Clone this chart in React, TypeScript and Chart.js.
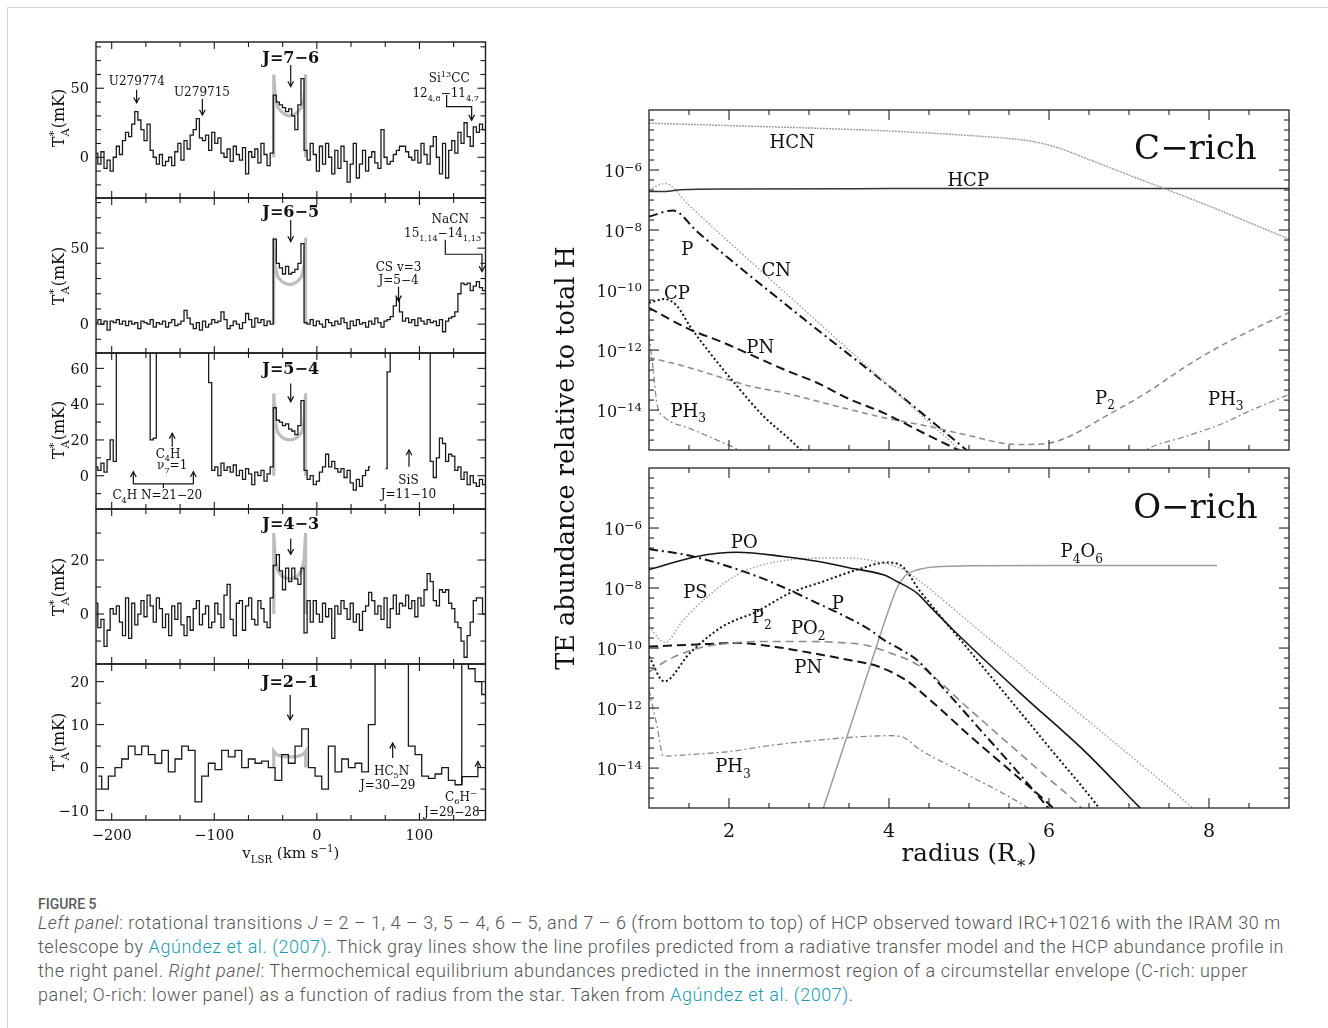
import React, { useEffect, useRef } from 'react';
import { Chart, registerables } from 'chart.js';
Chart.register(...registerables);

const SERIF = '"DejaVu Serif", "Liberation Serif", serif';
const MINUS = '\u2212';

// ---------------- Left panel: HCP spectra ----------------
const VEL_START = -215;
const VEL_STEP = 3;
const VEL21_START = -213;
const VEL21_STEP = 6.5;
const VEL_MIN = -215.3;
const VEL_MAX = 164.4;
const VEL_TICK_LABELS = [-200, -100, 0, 100];

const T76 = [3, -5, 4, -8, -2, -10, 0, 8, 2, 12,
  18, 15, 24, 33, 27, 20, 12, 24, 5, 0,
  -5, 2, -6, -3, 0, -6, 4, 10, -2, 12,
  6, 16, 20, 28, 14, 12, 16, 5, 18, 10,
  14, 3, 0, 6, -3, 8, 2, -2, 7, -12,
  4, 0, 6, -4, 10, 2, -6, 3,
  45, 40, 38, 36, 33, 35, 30, 20, 38, 57,
  5, -2, 10, 2, -10, 8, -5, 10, 0, -12,
  5, -8, 8, -3, -18, -5, 10, -15, -5, 5,
  -10, 0, 4, -4, -8, 20, 0, -5, -3, 2,
  5, 8, 8, 4, 0, -2, 5, -4, 10, 2,
  -5, 8, 15, 0, -12, 10, -15, 5, 12, 3,
  18, 10, 25, 15, 8, 22, 18, 24, 20, 18];

const T65 = [1, 3, 0, 2, -4, 2, 1, 3, 0, 2,
  -1, 2, 0, 1, -3, 2, 1, 0, 3, -2,
  1, 0, 2, -2, 1, 3, -1, 0, 2, 9,
  4, 0, -3, 1, -4, 2, -2, 0, 3, 1,
  2, 8, 3, -3, -1, 2, 0, -3, 1, 7,
  3, -2, 4, 1, 3, -1, 2, 0,
  56, 40, 37, 33, 38, 33, 34, 36, 40, 53,
  1, 0, 3, -1, 2, 0, -2, 3, 1, -1,
  2, 0, 4, 1, -3, 2, -1, 3, 0, 1,
  -2, 2, 0, 4, 1, -2, 2, 3, 5, 12,
  17, 8, 2, 4, 1, 3, -1, 4, 2, 0,
  3, 1, 2, -1, 3, -5, 2, 4, 5, 8,
  20, 27, 26, 27, 22, 25, 28, 24, 22, 23];

const T54 = [5, 3, 7, 2, 9, 20, 8,
  150, 150, 150, 150, 150, 150, 150, 150, 150, 150, 150,
  20, 21,
  150, 150, 150, 150, 150, 150, 150, 150, 150, 150, 150, 150, 150, 150, 150, 150, 150,
  52,
  3, 5, 0, 7, 3, 5, 2, 6, 0, 3, -2, 4, 1, -5, 2, 0, 3, -3, 1, 5,
  38, 31, 30, 28, 29, 26, 25, 23, 28, 42,
  3, -2, 0, -5, -3, 2, 5, 12, 5, 8, 4, 2, 4, -1, 3, -4, -8, -2, -6, 0, 3, 5,
  null, null, null, null,
  4, 58,
  150, 150, 150, 150, 150, 150, 150, 150, 150, 150, 150, 150, 150,
  8, -1, 10, 21, 18, 8, 12, 11, 3, 5, -2, 2, -5, 0, -4, -6, -2, -5, -1];

const T43 = [4, -5, -2, -12, -6, 2, 0, 3, -3, -8,
  6, -9, 4, -4, 0, 5, -1, 7, 3, -3,
  6, 2, -5, 0, -8, 3, -2, 4, -4, -8,
  -1, -6, 2, 5, -4, 0, 3, -5, -3, 4,
  0, -5, 7, 11, -2, -8, 4, 5, -6, 3,
  6, -2, -4, 5, 2, -3, -5, 6,
  18, 22, 16, 9, 17, 12, 17, 13, 11, 17,
  -7, 5, -3, 5, 0, -3, 4, -1, 2, -9,
  3, 0, 5, 2, -2, 4, -3, 0, -6, 1,
  3, 8, 5, 0, 3, -2, 6, -5, 2, 7,
  0, 4, 3, 7, 2, 5, -1, 6, 3, 9,
  15, 12, 5, 3, 9, 8, 9, 4, 2, -3,
  -5, -10, -16, -8, -3, 5, 6, 6, 0, 0];

const T21 = [-2, -5, -2, 0, 2, 5, 3, 5, 3, 1,
  4, -1, 2, 5, 4, -8, -2, 1, -0.5, 4,
  2.5, 4, 0, 2, 1, 1.5, 0, -3, 3, 1,
  5, 9, 0, -2, -5, 5, -1, 2, 0, 1,
  -1, 10, 150, 150, 150, 150, 150, 5, 3, -2,
  -2.5, -1.5, 0, -3, -4, 150, 23, 20, 17];

// radiative-transfer model profiles (thick gray)
const MODEL_V = [-42, -42, -40.5, -38, -34, -30, -26.5, -23, -19, -15, -12.5, -11, -11];
const MODEL76 = [0, 60, 43, 36, 32.5, 30.5, 30, 30.5, 32.5, 36, 43, 60, 0];
const MODEL65 = [0, 57, 38, 31, 28, 26.5, 26, 26.5, 28, 31, 38, 57, 0];
const MODEL54 = [0, 46, 30, 24, 21.5, 20.3, 20, 20.3, 21.5, 24, 30, 46, 0];
const MODEL43 = [0, 30, 20, 16, 14, 13.3, 13, 13.3, 14, 16, 20, 30, 0];
const MODEL21 = [0, 3.8, 3.3, 2.9, 2.6, 2.5, 2.5, 2.5, 2.6, 2.9, 3.3, 3.8, 0];

// ---------------- Right panel: TE abundances (log10 of abundance) ----------------
const RAD_MIN = 1;
const RAD_MAX = 9;
const LOG_MIN = -15.33;
const LOG_MAX = -4;
const RAD_TICK_LABELS = [2, 4, 6, 8];
const ABUND_TICK_EXP = [-6, -8, -10, -12, -14];

// C-rich
const C_HCN_R = [1, 2, 3, 4, 5, 5.5, 5.8, 6.1, 6.5, 7, 7.5, 8, 8.5, 9];
const C_HCN = [-4.44, -4.52, -4.6, -4.7, -4.85, -4.95, -5.05, -5.25, -5.65, -6.17, -6.68, -7.2, -7.75, -8.3];
const C_HCP_R = [1, 1.15, 1.4, 2, 4, 6, 9];
const C_HCP = [-6.72, -6.72, -6.66, -6.63, -6.62, -6.62, -6.62];
const C_CN_R = [1, 1.2, 1.5, 2, 3, 4, 4.5, 5];
const C_CN = [-6.65, -6.45, -7.18, -8.4, -10.8, -13.2, -14.4, -15.6];
const C_P_R = [1, 1.3, 1.6, 2, 3, 4, 4.5, 5];
const C_P = [-7.55, -7.35, -8.05, -8.95, -11.1, -13.2, -14.3, -15.4];
const C_CP_R = [1, 1.2, 1.35, 1.51, 1.76, 2.1, 2.43, 2.76, 3.0];
const C_CP = [-10.42, -10.3, -10.53, -11.2, -12.09, -13.2, -14.2, -14.98, -15.6];
const C_PN_R = [1, 1.5, 1.93, 2.26, 2.68, 3.1, 3.51, 3.93, 4.51, 5.0];
const C_PN = [-10.59, -11.3, -11.75, -12.14, -12.64, -13.09, -13.64, -14.09, -14.87, -15.5];
const C_P2_R = [1, 1.43, 1.85, 2.26, 2.68, 3.1, 3.51, 3.93, 4.51, 5.0, 5.6, 6.0, 6.26, 6.71, 7.22, 7.72, 8.14, 8.55, 9];
const C_P2 = [-12.25, -12.53, -12.87, -13.2, -13.42, -13.7, -13.98, -14.25, -14.55, -14.85, -15.15, -15.1, -14.87, -14.2, -13.42, -12.53, -11.87, -11.31, -10.75];
const C_PH3_R = [1, 1.05, 1.1, 1.2, 1.5, 1.85, 2.1, 2.4, 4.5, 7.0, 7.2, 7.72, 8.14, 8.55, 9];
const C_PH3 = [-11.5, -12.6, -13.8, -14.25, -14.6, -15.0, -15.3, -15.8, null, -15.8, -15.35, -14.87, -14.48, -13.98, -13.48];

// O-rich
const O_PO_R = [1, 1.6, 2.1, 2.68, 3.1, 3.51, 3.93, 4.1, 4.35, 4.51, 4.8, 5.64, 6.47, 7.14, 7.3];
const O_PO = [-7.39, -6.95, -6.81, -6.95, -7.11, -7.33, -7.56, -7.78, -8.17, -8.61, -9.39, -11.5, -13.5, -15.33, -15.75];
const O_P_R = [1, 1.54, 2.35, 3.1, 3.76, 3.93, 4.15, 4.35, 4.7, 5.2, 5.6, 5.95, 6.1];
const O_P = [-6.7, -6.94, -7.61, -8.5, -9.39, -9.72, -10.05, -10.4, -11.4, -12.9, -14.1, -15.2, -15.7];
const O_PS_R = [1, 1.2, 1.43, 1.76, 2.1, 2.43, 2.76, 3.1, 3.51, 3.93, 4.18, 4.39, 5, 6, 7, 7.74, 7.9];
const O_PS = [-9.3, -9.81, -9.06, -8.22, -7.56, -7.22, -7.06, -7.0, -7.0, -7.17, -7.39, -7.78, -9.13, -11.35, -13.55, -15.2, -15.6];
const O_P2_R = [1, 1.19, 1.51, 1.92, 2.35, 2.76, 3.18, 3.6, 3.97, 4.15, 4.39, 5, 5.5, 6, 6.58, 6.7];
const O_P2 = [-10.28, -11.11, -10.17, -9.28, -8.78, -8.17, -7.78, -7.39, -7.15, -7.25, -8.11, -10.07, -11.68, -13.3, -15.17, -15.6];
const O_PO2_R = [1, 1.2, 1.4, 1.7, 2.1, 2.5, 3, 3.4, 3.7, 4.0, 4.39, 5, 5.5, 6, 6.35, 6.5];
const O_PO2 = [-10.8, -10.45, -10.2, -9.95, -9.82, -9.78, -9.78, -9.82, -9.9, -10.15, -10.61, -12.03, -13.2, -14.36, -15.17, -15.6];
const O_PN_R = [1, 1.6, 2.1, 2.5, 3, 3.5, 3.85, 4.2, 4.5, 5, 5.5, 6, 6.15];
const O_PN = [-9.95, -9.88, -9.83, -9.93, -10.15, -10.4, -10.6, -11.05, -11.7, -12.9, -14.05, -15.2, -15.6];
const O_PH3_R = [1, 1.1, 1.18, 1.5, 2, 2.5, 3, 3.5, 4, 4.15, 4.39, 5, 5.5, 5.75, 5.9];
const O_PH3 = [-11.4, -12.6, -13.6, -13.55, -13.45, -13.25, -13.1, -12.98, -12.92, -12.95, -13.39, -14.25, -14.95, -15.35, -15.6];
const O_P4O6_R = [3.1, 3.18, 3.5, 3.8, 4.0, 4.1, 4.2, 4.35, 4.6, 5, 6, 8.1];
const O_P4O6 = [-16, -15.33, -12.75, -10.3, -8.7, -8.0, -7.6, -7.4, -7.29, -7.26, -7.25, -7.25];

// ---------------- drawing helpers ----------------
type Seg = { t: string; k: number };
function parseRich(s: string): Seg[] {
  const out: Seg[] = [];
  let buf = '';
  for (let i = 0; i < s.length; i++) {
    const c = s[i];
    if (c === '_' || c === '^') {
      if (buf) { out.push({ t: buf, k: 0 }); buf = ''; }
      let t = '';
      if (s[i + 1] === '{') { const j = s.indexOf('}', i + 2); t = s.slice(i + 2, j); i = j; }
      else { t = s[i + 1]; i++; }
      out.push({ t, k: c === '_' ? 1 : 2 });
    } else buf += c;
  }
  if (buf) out.push({ t: buf, k: 0 });
  return out;
}

function drawRich(ctx: CanvasRenderingContext2D, s: string, x: number, cy: number, size: number,
  align: string = 'center', bold = false, color = '#111', subRatio = 0.68) {
  const segs = parseRich(s);
  const font = (k: number) => `${bold ? 'bold ' : ''}${k ? (size * subRatio).toFixed(1) : size}px ${SERIF}`;
  const w = segs.map(g => { ctx.font = font(g.k); return ctx.measureText(g.t).width; });
  const xs: number[] = segs.map(() => 0);
  let cx = 0;
  for (let i = 0; i < segs.length; i++) {
    xs[i] = cx;
    const n = segs[i + 1];
    if (segs[i].k && n && n.k && n.k !== segs[i].k) {
      xs[i + 1] = cx;
      cx += Math.max(w[i], w[i + 1]);
      i++;
    } else cx += w[i];
  }
  const x0 = align === 'center' ? x - cx / 2 : align === 'right' ? x - cx : x;
  const base = cy + size * 0.36;
  ctx.fillStyle = color;
  ctx.textAlign = 'left';
  ctx.textBaseline = 'alphabetic';
  segs.forEach((g, i) => {
    ctx.font = font(g.k);
    const dy = g.k === 1 ? size * 0.3 : g.k === 2 ? -size * 0.42 : 0;
    ctx.fillText(g.t, x0 + xs[i], base + dy);
  });
}

function seg(ctx: CanvasRenderingContext2D, x1: number, y1: number, x2: number, y2: number) {
  ctx.beginPath(); ctx.moveTo(x1, y1); ctx.lineTo(x2, y2); ctx.stroke();
}

function drawArrow(ctx: CanvasRenderingContext2D, pts: number[][], head: boolean) {
  ctx.beginPath();
  ctx.moveTo(pts[0][0], pts[0][1]);
  for (let i = 1; i < pts.length; i++) ctx.lineTo(pts[i][0], pts[i][1]);
  ctx.stroke();
  if (head) {
    const [x2, y2] = pts[pts.length - 1];
    const [x1, y1] = pts[pts.length - 2];
    const ang = Math.atan2(y2 - y1, x2 - x1);
    const L = 6, W = 0.5;
    ctx.beginPath();
    ctx.moveTo(x2 - L * Math.cos(ang - W), y2 - L * Math.sin(ang - W));
    ctx.lineTo(x2, y2);
    ctx.lineTo(x2 - L * Math.cos(ang + W), y2 - L * Math.sin(ang + W));
    ctx.stroke();
  }
}

const fmtNum = (v: number) => (v < 0 ? MINUS + Math.abs(v) : String(v));

// ---------------- left panel configs ----------------
type Txt = { t: string; x: number; y: number; size?: number; bold?: boolean };
type Arr = { pts: number[][]; head?: boolean };
type LeftPanel = {
  top: number; bottom: number; yMin: number; yMax: number; yStep: number; yLabels: number[];
  values: (number | null)[]; v0: number; dv: number; model: number[]; titleY: number;
  texts: Txt[]; arrows: Arr[];
};

const LEFT_PANELS: LeftPanel[] = [
  {
    top: 42, bottom: 198, yMin: -29.5, yMax: 83.5, yStep: 10, yLabels: [0, 50],
    values: T76, v0: VEL_START, dv: VEL_STEP, model: MODEL76, titleY: 118,
    texts: [
      { t: 'J=7' + MINUS + '6', x: -25.5, y: 72.7, size: 16, bold: true },
      { t: 'U279774', x: -175.5, y: 55.3 },
      { t: 'U279715', x: -112, y: 47.3 },
      { t: 'Si^{13}CC', x: 129, y: 57.5 },
      { t: '12_{4,8}' + MINUS + '11_{4,7}', x: 125.6, y: 46.5 },
    ],
    arrows: [
      { pts: [[-25.5, 66.9], [-25.5, 51.2]] },
      { pts: [[-175.7, 49], [-175.7, 39.5]] },
      { pts: [[-111.6, 42.3], [-111.6, 30.6]] },
      { pts: [[126.5, 45.1], [126.5, 36.7], [150.9, 36.7], [150.9, 26.9]] },
    ],
  },
  {
    top: 198, bottom: 353, yMin: -19, yMax: 83, yStep: 10, yLabels: [0, 50],
    values: T65, v0: VEL_START, dv: VEL_STEP, model: MODEL65, titleY: 276,
    texts: [
      { t: 'J=6' + MINUS + '5', x: -25.5, y: 74.6, size: 16, bold: true },
      { t: 'NaCN', x: 130, y: 69.7 },
      { t: '15_{1,14}' + MINUS + '14_{1,13}', x: 122.6, y: 59.9 },
      { t: 'CS v=3', x: 79.6, y: 37.9 },
      { t: 'J=5' + MINUS + '4', x: 79.6, y: 29.1 },
    ],
    arrows: [
      { pts: [[-25.5, 68.6], [-25.5, 54.4]] },
      { pts: [[125.2, 55.5], [125.2, 46], [161, 46], [161, 34.6]] },
      { pts: [[79.6, 24.7], [79.6, 15.3]] },
    ],
  },
  {
    top: 353, bottom: 509, yMin: -18.6, yMax: 68.6, yStep: 10, yLabels: [0, 20, 40, 60],
    values: T54, v0: VEL_START, dv: VEL_STEP, model: MODEL54, titleY: 430,
    texts: [
      { t: 'J=5' + MINUS + '4', x: -25.5, y: 60, size: 16, bold: true },
      { t: 'C_{4}H', x: -145, y: 12.4 },
      { t: '\u03bd_{7}=1', x: -141, y: 6 },
      { t: 'C_{4}H N=21' + MINUS + '20', x: -155.5, y: -10.8 },
      { t: 'SiS', x: 89.3, y: -2.4 },
      { t: 'J=11' + MINUS + '10', x: 89.3, y: -10.2 },
    ],
    arrows: [
      { pts: [[-25.5, 51.6], [-25.5, 41.4]] },
      { pts: [[-141, 16.2], [-141, 23.7]] },
      { pts: [[-178.9, -4.6], [-120.4, -4.6]], head: false },
      { pts: [[-178.9, -4.6], [-178.9, 2.2]] },
      { pts: [[-120.4, -4.6], [-120.4, 2.2]] },
      { pts: [[-149.6, -4.6], [-149.6, -6.8]], head: false },
      { pts: [[89.8, 5], [89.8, 14.4]] },
    ],
  },
  {
    top: 509, bottom: 664, yMin: -18.5, yMax: 38.9, yStep: 10, yLabels: [0, 20],
    values: T43, v0: VEL_START, dv: VEL_STEP, model: MODEL43, titleY: 587,
    texts: [{ t: 'J=4' + MINUS + '3', x: -25.5, y: 33.6, size: 16, bold: true }],
    arrows: [{ pts: [[-25.5, 28], [-25.5, 22.1]] }],
  },
  {
    top: 664, bottom: 820, yMin: -12.2, yMax: 24.1, yStep: 5, yLabels: [-10, 0, 10, 20],
    values: T21, v0: VEL21_START, dv: VEL21_STEP, model: MODEL21, titleY: 742,
    texts: [
      { t: 'J=2' + MINUS + '1', x: -26, y: 20, size: 16, bold: true },
      { t: 'HC_{5}N', x: 72.9, y: -0.7 },
      { t: 'J=30' + MINUS + '29', x: 69, y: -4 },
      { t: 'C_{6}H^{' + MINUS + '}', x: 140.4, y: -6.7 },
      { t: 'J=29' + MINUS + '28', x: 131.6, y: -10.2 },
    ],
    arrows: [
      { pts: [[-26, 16.9], [-26, 11.1]] },
      { pts: [[73.9, 2.2], [73.9, 5.7]] },
      { pts: [[141.5, -4.1], [141.5, -2.1], [157, -2.1], [157, 1.4]] },
    ],
  },
];

const LEFT_CANVAS_W = 500;
const LEFT_PAD_L = 96;
const LEFT_PAD_R = LEFT_CANVAS_W - 485.5;

function leftDecor(p: LeftPanel, isLast: boolean, canvasTop: number) {
  return {
    id: 'ldecor',
    afterDatasetsDraw(chart: any) {
      const ctx: CanvasRenderingContext2D = chart.ctx;
      const a = chart.chartArea;
      const xs = chart.scales.x, ys = chart.scales.y;
      ctx.save();
      ctx.strokeStyle = '#1a1a1a';
      ctx.lineWidth = 1.4;
      ctx.strokeRect(a.left, a.top, a.right - a.left, a.bottom - a.top);
      ctx.lineWidth = 1.1;
      for (let k = -9; k <= 9; k++) {
        const v = (k * 100) / 3;
        if (v <= xs.min || v >= xs.max) continue;
        const px = xs.getPixelForValue(v);
        const len = k % 3 === 0 ? 7 : 5;
        seg(ctx, px, a.top, px, a.top + len);
        seg(ctx, px, a.bottom, px, a.bottom - len);
      }
      const k0 = Math.ceil(ys.min / p.yStep), k1 = Math.floor(ys.max / p.yStep);
      for (let k = k0; k <= k1; k++) {
        const v = k * p.yStep;
        const py = ys.getPixelForValue(v);
        const len = p.yLabels.indexOf(v) >= 0 ? 8 : 5;
        seg(ctx, a.left, py, a.left + len, py);
        seg(ctx, a.right, py, a.right - len, py);
      }
      for (const v of p.yLabels) drawRich(ctx, fmtNum(v), a.left - 7, ys.getPixelForValue(v), 14.5, 'right');
      ctx.save();
      ctx.translate(a.left - 38, p.titleY - canvasTop);
      ctx.rotate(-Math.PI / 2);
      drawRich(ctx, 'T_{A}^{*}(mK)', 0, 0, 16, 'center', false, '#111', 0.72);
      ctx.restore();
      if (isLast) {
        for (const v of VEL_TICK_LABELS) drawRich(ctx, fmtNum(v), xs.getPixelForValue(v), a.bottom + 15, 14.5);
        drawRich(ctx, 'v_{LSR} (km s^{' + MINUS + '1})', (a.left + a.right) / 2, a.bottom + 33, 15);
      }
      for (const t of p.texts) drawRich(ctx, t.t, xs.getPixelForValue(t.x), ys.getPixelForValue(t.y), t.size || 12, 'center', !!t.bold);
      ctx.strokeStyle = '#111';
      ctx.lineWidth = 1.2;
      for (const ar of p.arrows) {
        drawArrow(ctx, ar.pts.map(([v, T]) => [xs.getPixelForValue(v), ys.getPixelForValue(T)]), ar.head !== false);
      }
      ctx.restore();
    },
  };
}

function baseOptions(padding: any, xMin: number, xMax: number, yMin: number, yMax: number) {
  return {
    animation: false,
    responsive: false,
    events: [],
    layout: { padding },
    plugins: { legend: { display: false }, tooltip: { enabled: false } },
    scales: {
      x: { type: 'linear', min: xMin, max: xMax, display: false },
      y: { type: 'linear', min: yMin, max: yMax, display: false },
    },
  };
}

function buildLeft(p: LeftPanel, isLast: boolean, canvasTop: number, padB: number) {
  const spec = p.values.map((v, i) => ({ x: p.v0 + i * p.dv, y: v }));
  const model = MODEL_V.map((v, i) => ({ x: v, y: p.model[i] }));
  return {
    type: 'line',
    data: {
      datasets: [
        { data: spec, borderColor: '#1a1a1a', borderWidth: 1.3, stepped: 'middle', pointRadius: 0, spanGaps: false, clip: 0, fill: false },
        { data: model, borderColor: '#bdbdbd', borderWidth: 3.2, pointRadius: 0, tension: 0, clip: 0, fill: false },
      ],
    },
    options: baseOptions({ left: LEFT_PAD_L, right: LEFT_PAD_R, top: p.top - canvasTop, bottom: padB }, VEL_MIN, VEL_MAX, p.yMin, p.yMax),
    plugins: [leftDecor(p, isLast, canvasTop)],
  };
}

// ---------------- right panel configs ----------------
const BLACK = '#141414';
const GRAY = '#8a8a8a';
const LGRAY = '#9c9c9c';
type Series = { r: number[]; v: (number | null)[]; color: string; width: number; dash: number[] };

const C_SERIES: Series[] = [
  { r: C_HCN_R, v: C_HCN, color: LGRAY, width: 1.4, dash: [2, 1] },
  { r: C_HCP_R, v: C_HCP, color: '#333', width: 1.5, dash: [] },
  { r: C_CN_R, v: C_CN, color: LGRAY, width: 1.4, dash: [1.5, 2] },
  { r: C_P_R, v: C_P, color: BLACK, width: 2, dash: [9, 4, 2, 4] },
  { r: C_CP_R, v: C_CP, color: BLACK, width: 2, dash: [2, 2.5] },
  { r: C_PN_R, v: C_PN, color: BLACK, width: 2, dash: [9, 5] },
  { r: C_P2_R, v: C_P2, color: GRAY, width: 1.5, dash: [6, 4] },
  { r: C_PH3_R, v: C_PH3, color: GRAY, width: 1.3, dash: [6, 3, 2, 3] },
];
const O_SERIES: Series[] = [
  { r: O_PO_R, v: O_PO, color: BLACK, width: 1.6, dash: [] },
  { r: O_P_R, v: O_P, color: BLACK, width: 2, dash: [9, 4, 2, 4] },
  { r: O_PS_R, v: O_PS, color: LGRAY, width: 1.4, dash: [1.5, 2] },
  { r: O_P2_R, v: O_P2, color: BLACK, width: 2, dash: [2, 2.5] },
  { r: O_PO2_R, v: O_PO2, color: GRAY, width: 1.6, dash: [8, 5] },
  { r: O_PN_R, v: O_PN, color: BLACK, width: 2, dash: [9, 5] },
  { r: O_PH3_R, v: O_PH3, color: GRAY, width: 1.3, dash: [6, 3, 2, 3] },
  { r: O_P4O6_R, v: O_P4O6, color: LGRAY, width: 1.5, dash: [] },
];

const C_LABELS: Txt[] = [
  { t: 'HCN', x: 2.79, y: -5.04 },
  { t: 'HCP', x: 4.99, y: -6.31 },
  { t: 'P', x: 1.48, y: -8.61 },
  { t: 'CN', x: 2.59, y: -9.31 },
  { t: 'CP', x: 1.35, y: -10.08 },
  { t: 'PN', x: 2.39, y: -11.88 },
  { t: 'PH_{3}', x: 1.49, y: -14.01 },
  { t: 'P_{2}', x: 6.7, y: -13.58 },
  { t: 'PH_{3}', x: 8.21, y: -13.61 },
  { t: 'C' + MINUS + 'rich', x: 7.83, y: -5.21, size: 34 },
];
const O_LABELS: Txt[] = [
  { t: 'PO', x: 2.19, y: -6.46 },
  { t: 'PS', x: 1.58, y: -8.12 },
  { t: 'P_{2}', x: 2.41, y: -8.96 },
  { t: 'PO_{2}', x: 2.99, y: -9.32 },
  { t: 'P', x: 3.36, y: -8.49 },
  { t: 'PN', x: 2.99, y: -10.62 },
  { t: 'PH_{3}', x: 2.05, y: -13.92 },
  { t: 'P_{4}O_{6}', x: 6.41, y: -6.76 },
  { t: 'O' + MINUS + 'rich', x: 7.83, y: -5.26, size: 34 },
];

function rightDecor(labels: Txt[], bottomAxis: boolean) {
  return {
    id: 'rdecor',
    afterDatasetsDraw(chart: any) {
      const ctx: CanvasRenderingContext2D = chart.ctx;
      const a = chart.chartArea;
      const xs = chart.scales.x, ys = chart.scales.y;
      ctx.save();
      ctx.strokeStyle = '#222';
      ctx.lineWidth = 1.3;
      ctx.strokeRect(a.left, a.top, a.right - a.left, a.bottom - a.top);
      ctx.lineWidth = 1.1;
      for (let k = 1; k < 18; k++) {
        const r = k / 2;
        if (r <= RAD_MIN || r >= RAD_MAX) continue;
        const px = xs.getPixelForValue(r);
        const len = RAD_TICK_LABELS.indexOf(r) >= 0 ? 10 : 5;
        seg(ctx, px, a.top, px, a.top + len);
        seg(ctx, px, a.bottom, px, a.bottom - len);
      }
      for (let k = 1; k < 40; k++) {
        const v = LOG_MAX - k / 3;
        if (v <= LOG_MIN) break;
        const py = ys.getPixelForValue(v);
        const isMaj = k % 6 === 0;
        const len = isMaj ? 10 : 5;
        seg(ctx, a.left, py, a.left + len, py);
        seg(ctx, a.right, py, a.right - len, py);
      }
      for (const e of ABUND_TICK_EXP) {
        drawRich(ctx, '10^{' + MINUS + Math.abs(e) + '}', a.left - 7, ys.getPixelForValue(e) + 1.5, 16, 'right', false, '#111', 0.74);
      }
      if (bottomAxis) {
        for (const r of RAD_TICK_LABELS) drawRich(ctx, String(r), xs.getPixelForValue(r), a.bottom + 22, 19);
        drawRich(ctx, 'radius (R_{\u2217})', (a.left + a.right) / 2, a.bottom + 44, 24.5);
        ctx.save();
        ctx.translate(25, 363);
        ctx.rotate(-Math.PI / 2);
        drawRich(ctx, 'TE abundance relative to total H', 0, 0, 25.5);
        ctx.restore();
      }
      for (const t of labels) drawRich(ctx, t.t, xs.getPixelForValue(t.x), ys.getPixelForValue(t.y), t.size || 18);
      ctx.restore();
    },
  };
}

function buildRight(series: Series[], labels: Txt[], padding: any, bottomAxis: boolean) {
  return {
    type: 'line',
    data: {
      datasets: series.map(s => ({
        data: s.r.map((r, i) => ({ x: r, y: s.v[i] })),
        borderColor: s.color,
        borderWidth: s.width,
        borderDash: s.dash,
        pointRadius: 0,
        cubicInterpolationMode: 'monotone',
        spanGaps: false,
        clip: 0,
        fill: false,
      })),
    },
    options: baseOptions(padding, RAD_MIN, RAD_MAX, LOG_MIN, LOG_MAX),
    plugins: [rightDecor(labels, bottomAxis)],
  };
}

// ---------------- components ----------------
function ChartCanvas(props: { left: number; top: number; width: number; height: number; build: () => any }) {
  const ref = useRef<HTMLCanvasElement>(null);
  useEffect(() => {
    const chart = new Chart(ref.current as HTMLCanvasElement, props.build());
    return () => chart.destroy();
  }, []);
  return (
    <canvas
      ref={ref}
      width={props.width}
      height={props.height}
      style={{ position: 'absolute', left: props.left, top: props.top, width: props.width, height: props.height }}
    />
  );
}

const LINK = '#1a9bb3';
const CAP_FONT = 'Roboto, "Noto Sans", sans-serif';

export default function App() {
  useEffect(() => {
    document.body.style.margin = '0';
    document.body.style.background = '#fff';
  }, []);
  return (
    <div style={{ position: 'absolute', left: 0, top: 0, width: 1328, height: 1028, overflow: 'hidden', background: '#fff' }}>
      <div style={{ position: 'absolute', left: 7, top: 7, width: 1360, height: 1060, border: '1px solid #d4d4d4' }} />
      {LEFT_PANELS.map((p, i) => {
        const last = i === LEFT_PANELS.length - 1;
        const cTop = p.top - 30;
        const padB = last ? 50 : 30;
        const h = p.bottom - p.top + 30 + padB;
        return <ChartCanvas key={i} left={0} top={cTop} width={LEFT_CANVAS_W} height={h} build={() => buildLeft(p, last, cTop, padB)} />;
      })}
      <ChartCanvas left={540} top={95} width={788} height={370}
        build={() => buildRight(C_SERIES, C_LABELS, { left: 109, right: 39, top: 15, bottom: 15 }, false)} />
      <ChartCanvas left={540} top={95} width={788} height={800}
        build={() => buildRight(O_SERIES, O_LABELS, { left: 109, right: 39, top: 373, bottom: 87 }, true)} />
      <div style={{ position: 'absolute', left: 38, top: 895, fontFamily: CAP_FONT, fontWeight: 500, fontSize: 14, lineHeight: '18px', color: '#5a5a5a' }}>
        FIGURE 5
      </div>
      <div style={{ position: 'absolute', left: 38, top: 911, fontFamily: CAP_FONT, fontWeight: 300, fontSize: 18, letterSpacing: '0.55px', lineHeight: '24px', color: '#555', whiteSpace: 'nowrap' }}>
        <div><i>Left panel</i>: rotational transitions <i>J</i> = 2 – 1, 4 – 3, 5 – 4, 6 – 5, and 7 – 6 (from bottom to top) of HCP observed toward IRC+10216 with the IRAM 30 m</div>
        <div>telescope by <span style={{ color: LINK }}>Agúndez et al. (2007)</span>. Thick gray lines show the line profiles predicted from a radiative transfer model and the HCP abundance profile in</div>
        <div>the right panel. <i>Right panel</i>: Thermochemical equilibrium abundances predicted in the innermost region of a circumstellar envelope (C-rich: upper</div>
        <div>panel; O-rich: lower panel) as a function of radius from the star. Taken from <span style={{ color: LINK }}>Agúndez et al. (2007)</span>.</div>
      </div>
    </div>
  );
}
